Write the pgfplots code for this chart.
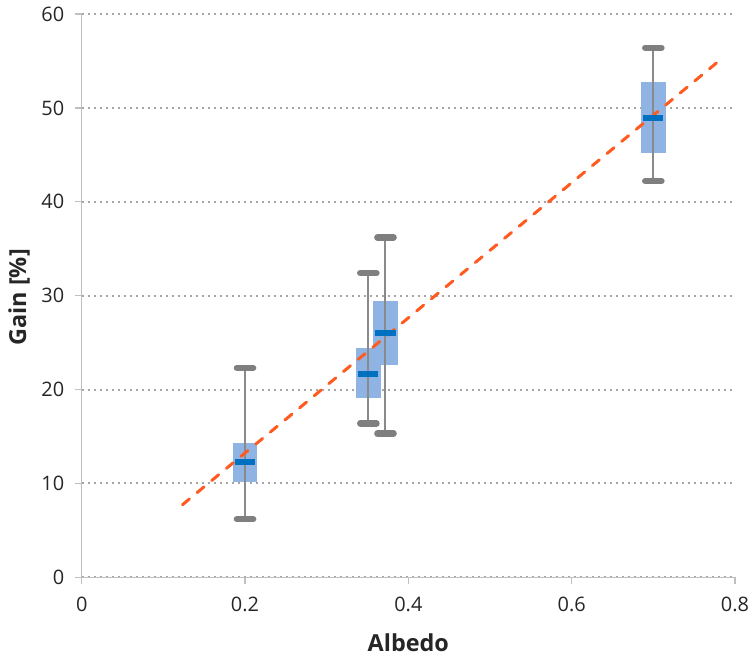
\documentclass[border=0pt]{standalone}
\usepackage{pgfplots}
\pgfplotsset{compat=1.18}
\usepackage{fontspec}
\setmainfont{Open Sans}

\definecolor{boxfill}{HTML}{8FB4E3}
\definecolor{medianblue}{HTML}{0070C0}
\definecolor{whiskergray}{HTML}{8A8A8A}
\definecolor{capgray}{HTML}{7F7F7F}
\definecolor{fitorange}{HTML}{FF5B21}
\definecolor{gridgray}{HTML}{A6A6A6}
\definecolor{axisgray}{HTML}{BFBFBF}
\definecolor{labelgray}{HTML}{262626}

\begin{document}
\begin{tikzpicture}
\begin{axis}[
  scale only axis,
  width=653.3bp, height=563.3bp,
  xmin=0, xmax=0.8, ymin=0, ymax=60,
  axis x line=bottom, axis y line=left,
  axis line style={-, draw=axisgray, line width=1.3bp},
  xtick={0,0.2,0.4,0.6,0.8}, ytick={0,10,...,60},
  xticklabels={0,0.2,0.4,0.6,0.8},
  tick align=outside, major tick length=7bp,
  tick style={draw=axisgray, line width=1.3bp},
  ymajorgrids,
  grid style={draw=gridgray, line width=2bp, dash pattern=on 2bp off 4bp},
  /pgf/number format/assume math mode=true,
  ticklabel style={font=\fontsize{20}{24}\selectfont, text=labelgray},
  xticklabel style={yshift=-9bp},
  yticklabel style={xshift=-7bp},
  xlabel={Albedo}, ylabel={Gain [\%]},
  xlabel style={at={(axis description cs:0.5,-0.131)}, anchor=base,
    font=\bfseries\fontsize{23.5}{28}\selectfont, text=labelgray},
  ylabel style={at={(axis description cs:-0.0852,0.497)}, anchor=base,
    font=\bfseries\fontsize{23.5}{28}\selectfont, text=labelgray},
  no marks,
  clip=false,
]
% interquartile boxes
\addplot[fill=boxfill, draw=none] coordinates {(0.1851,10.1) (0.2149,10.1) (0.2149,14.3) (0.1851,14.3)} -- cycle;
\addplot[fill=boxfill, draw=none] coordinates {(0.3361,19.1) (0.3659,19.1) (0.3659,24.4) (0.3361,24.4)} -- cycle;
\addplot[fill=boxfill, draw=none] coordinates {(0.3571,22.6) (0.3869,22.6) (0.3869,29.4) (0.3571,29.4)} -- cycle;
\addplot[fill=boxfill, draw=none] coordinates {(0.6851,45.2) (0.7149,45.2) (0.7149,52.8) (0.6851,52.8)} -- cycle;

% whiskers
\addplot[whiskergray, line width=2bp] coordinates {(0.200,6.2) (0.200,22.3)};
\addplot[whiskergray, line width=2bp] coordinates {(0.351,16.4) (0.351,32.4)};
\addplot[whiskergray, line width=2bp] coordinates {(0.372,15.3) (0.372,36.2)};
\addplot[whiskergray, line width=2bp] coordinates {(0.700,42.2) (0.700,56.4)};

% whisker caps
\addplot[capgray, line width=6.5bp, line cap=round] coordinates {(0.1901,22.3) (0.2099,22.3)};
\addplot[capgray, line width=6.5bp, line cap=round] coordinates {(0.1901,6.2) (0.2099,6.2)};
\addplot[capgray, line width=6.5bp, line cap=round] coordinates {(0.3411,32.4) (0.3609,32.4)};
\addplot[capgray, line width=6.5bp, line cap=round] coordinates {(0.3411,16.4) (0.3609,16.4)};
\addplot[capgray, line width=6.5bp, line cap=round] coordinates {(0.3621,36.2) (0.3819,36.2)};
\addplot[capgray, line width=6.5bp, line cap=round] coordinates {(0.3621,15.3) (0.3819,15.3)};
\addplot[capgray, line width=6.5bp, line cap=round] coordinates {(0.6901,56.4) (0.7099,56.4)};
\addplot[capgray, line width=6.5bp, line cap=round] coordinates {(0.6901,42.2) (0.7099,42.2)};

% linear trend
\addplot[fitorange, line width=3bp, line cap=round, dash pattern=on 9bp off 10bp]
  coordinates {(0.1234,7.73) (0.7817,55.1)};

% medians
\addplot[medianblue, line width=6bp] coordinates {(0.1876,12.3) (0.2124,12.3)};
\addplot[medianblue, line width=6bp] coordinates {(0.3386,21.7) (0.3634,21.7)};
\addplot[medianblue, line width=6bp] coordinates {(0.3596,26.0) (0.3844,26.0)};
\addplot[medianblue, line width=6bp] coordinates {(0.6876,48.9) (0.7124,48.9)};
\end{axis}
\pgfresetboundingbox
\path[use as bounding box] (-81.7bp,-81.7bp) rectangle (671.3bp,577.3bp);
\end{tikzpicture}
\end{document}
